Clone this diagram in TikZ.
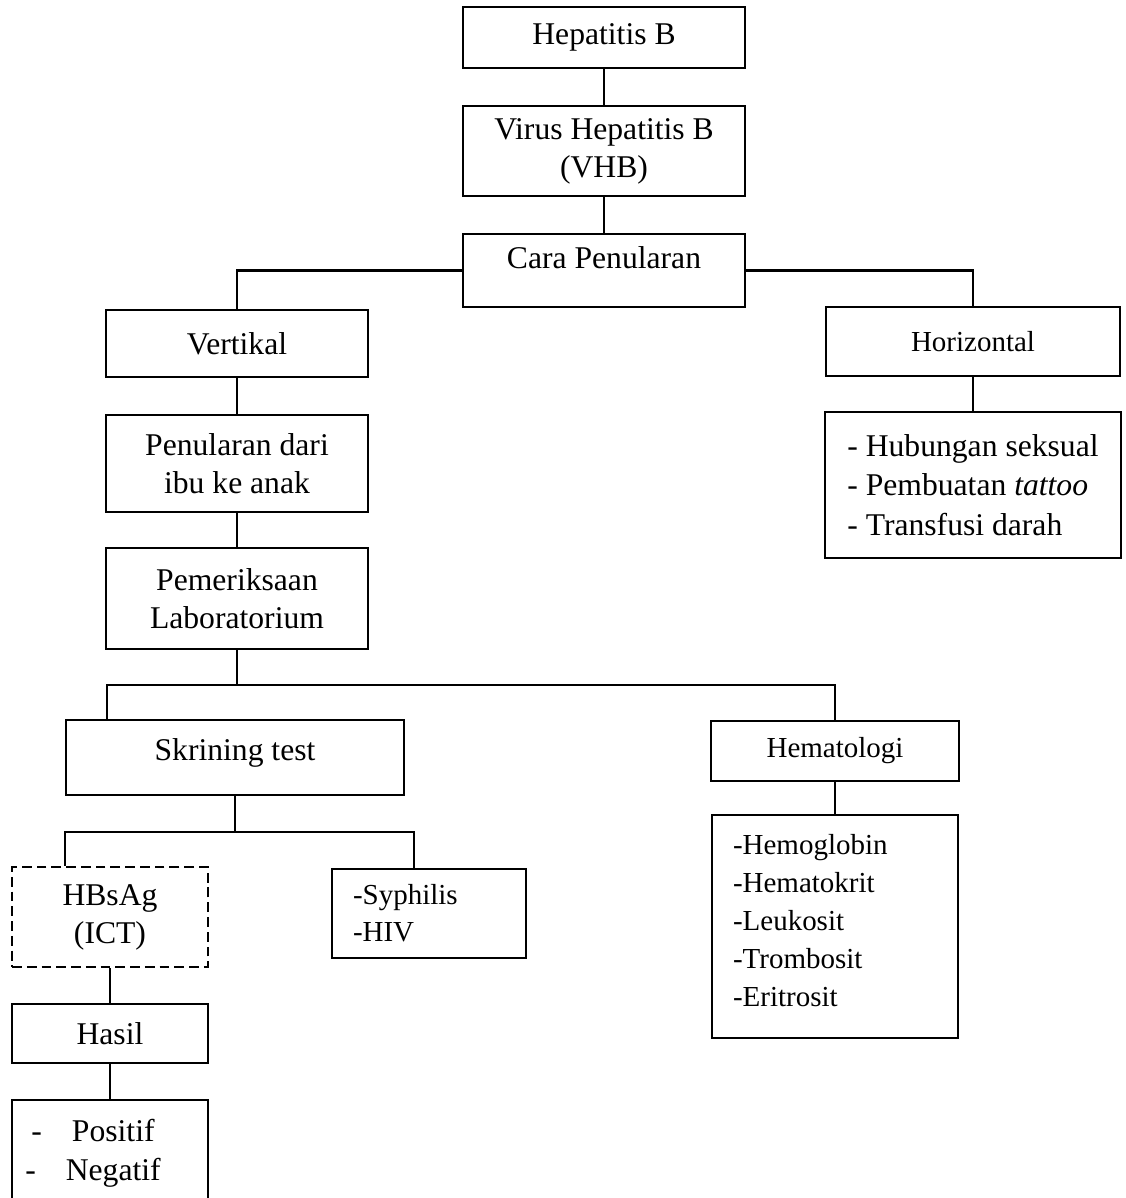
\documentclass[tikz,border=0pt]{standalone}
\usepackage{fontspec}
\setmainfont{Liberation Serif}

\begin{document}
\begin{tikzpicture}[line width=0.6pt,
  kotak/.style={draw,rectangle,align=center,inner sep=0pt,font=\fontsize{9}{10.8}\selectfont},
  kecil/.style={font=\fontsize{8.25}{10.8}\selectfont},
  daftar/.style={align=left,inner xsep=2.1mm}]
  \useasboundingbox (0,0) rectangle (11.25,-11.98);
  \clip (0,0) rectangle (11.25,-11.98);
  % puncak
  \node[kotak,minimum width=2.82cm,minimum height=0.61cm] (hep) at (6.04,-0.375){Hepatitis B};
  \node[kotak,minimum width=2.82cm,minimum height=0.90cm] (vhb) at (6.04,-1.51){Virus Hepatitis B\\(VHB)};
  \node[kotak,minimum width=2.82cm,minimum height=0.73cm,text height=2.15mm,text depth=2.5mm] (cara) at (6.04,-2.705){Cara Penularan};
  % cabang vertikal
  \node[kotak,minimum width=2.62cm,minimum height=0.67cm] (vert) at (2.37,-3.435){Vertikal};
  \node[kotak,minimum width=2.62cm,minimum height=0.97cm] (ibu) at (2.37,-4.635){Penularan dari\\ibu ke anak};
  \node[kotak,minimum width=2.62cm,minimum height=1.01cm] (lab) at (2.37,-5.985){Pemeriksaan\\Laboratorium};
  % cabang horizontal
  \node[kotak,kecil,minimum width=2.94cm,minimum height=0.69cm] (hor) at (9.73,-3.415){Horizontal};
  \node[kotak,align=left,minimum width=2.96cm,minimum height=1.46cm,font=\fontsize{9}{11.2}\selectfont] (horlist) at (9.73,-4.85){- Hubungan seksual\\- Pembuatan \textit{tattoo}\\- Transfusi darah};
  % pemeriksaan
  \node[kotak,minimum width=3.38cm,minimum height=0.75cm,text height=2.15mm,text depth=1.5mm] (skr) at (2.35,-7.575){Skrining test};
  \node[kotak,kecil,minimum width=2.48cm,minimum height=0.60cm] (hem) at (8.35,-7.51){Hematologi};
  \node[kotak,kecil,daftar,text width=2.04cm,minimum height=2.23cm,text depth=46.8pt] (hemlist) at (8.35,-9.265){-Hemoglobin\\-Hematokrit\\-Leukosit\\-Trombosit\\-Eritrosit};
  \node[kotak,dash pattern=on 2.8pt off 1.4pt,minimum width=1.96cm,minimum height=1.00cm] (hbs) at (1.10,-9.17){HBsAg\\(ICT)};
  \node[kotak,kecil,daftar,text width=1.52cm,minimum height=0.89cm,font=\fontsize{8.25}{10.6}\selectfont] (sif) at (4.29,-9.135){-Syphilis\\-HIV};
  \node[kotak,minimum width=1.96cm,minimum height=0.59cm] (hasil) at (1.10,-10.335){Hasil};
  \node[kotak,minimum width=1.96cm,minimum height=1.06cm,font=\fontsize{9}{11.1}\selectfont] (pn) at (1.10,-11.53){-\hspace{0.95em}Positif\rule{3.4mm}{0pt}\\-\hspace{0.95em}Negatif\rule{3.4mm}{0pt}};
  % garis penghubung
  \draw (hep.south)--(vhb.north);
  \draw (vhb.south)--(cara.north);
  \draw (cara.west)-|(vert.north);
  \draw (cara.east)-|(hor.north);
  \draw (vert.south)--(ibu.north);
  \draw (ibu.south)--(lab.north);
  \draw (hor.south)--(horlist.north);
  \coordinate (b1) at ([yshift=-3.5mm]lab.south);
  \draw (lab.south)--(b1);
  \draw ([xshift=4.2mm]skr.north west)|-(b1)-|(hem.north);
  \draw (hem.south)--(hemlist.north);
  \coordinate (b2) at ([yshift=-3.6mm]skr.south);
  \draw (skr.south)--(b2);
  \draw ([xshift=5.4mm]hbs.north west)|-(b2)-|([xshift=-1.5mm]sif.north);
  \draw (hbs.south)--(hasil.north);
  \draw (hasil.south)--(pn.north);
\end{tikzpicture}
\end{document}
